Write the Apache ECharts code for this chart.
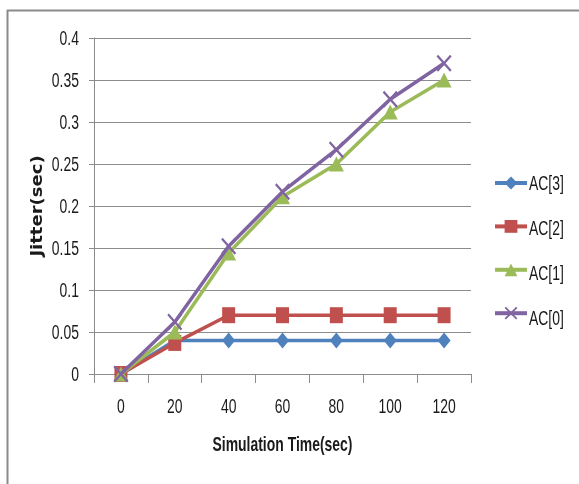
<!DOCTYPE html>
<html>
<head>
<meta charset="utf-8">
<script src="https://cdn.jsdelivr.net/npm/echarts@6/dist/echarts.min.js"></script>
<style>html,body{margin:0;padding:0;background:#fff;}#c{width:579px;height:484px;}</style>
</head>
<body>
<div id="c"></div>
<script>
var categories = ['0', '20', '40', '60', '80', '100', '120'];
var seriesNames = ['AC[3]', 'AC[2]', 'AC[1]', 'AC[0]'];
var ac3 = [0, 0.040, 0.040, 0.040, 0.040, 0.040, 0.040];
var ac2 = [0, 0.037, 0.070, 0.070, 0.070, 0.070, 0.070];
var ac1 = [0, 0.050, 0.144, 0.211, 0.250, 0.312, 0.350];
var ac0 = [0, 0.062, 0.152, 0.217, 0.267, 0.327, 0.370];
var yTicks = [0, 0.05, 0.1, 0.15, 0.2, 0.25, 0.3, 0.35, 0.4];
var yTickLabels = ['0', '0.05', '0.1', '0.15', '0.2', '0.25', '0.3', '0.35', '0.4'];
var xTitle = 'Simulation Time(sec)';
var yTitle = 'Jitter(sec)';

var FONT = "'Liberation Sans', Arial, sans-serif";
var NARROW_SCALE = 0.82;
var TALL_SCALE = 1.18;
var TXT = '#1a1a1a';
var colors = ['#4F81BD', '#C0504D', '#9BBB59', '#8064A2'];
var xSym = 'path://M0,1L1,0L5,4L9,0L10,1L6,5L10,9L9,10L5,6L1,10L0,9L4,5Z';
var symbols = ['diamond', 'rect', 'triangle', xSym];
var symSizes = [[13, 16], [13, 16], [15, 15], [15, 17]];
var values = [ac3, ac2, ac1, ac0];

var chart = echarts.init(document.getElementById('c'), null, {renderer: 'canvas'});
var series = values.map(function (v, i) {
  return {
    name: seriesNames[i],
    type: 'line',
    data: v,
    symbol: symbols[i],
    symbolSize: symSizes[i],
    showAllSymbol: true,
    lineStyle: {color: colors[i], width: 3.5},
    itemStyle: {color: colors[i]},
    z: 2 + i,
    animation: false
  };
});

chart.setOption({
  animation: false,
  backgroundColor: '#fff',
  color: colors,
  grid: {left: 94, right: 108, top: 38, bottom: 110, containLabel: false},
  legend: {
    orient: 'vertical',
    left: 493,
    top: 175,
    padding: 0,
    itemWidth: 32,
    itemHeight: 16,
    itemGap: 29,
    data: seriesNames,
    lineStyle: {width: 4},
    formatter: function () { return ''; },
    textStyle: {fontSize: 1}
  },
  xAxis: {
    type: 'category',
    data: categories,
    boundaryGap: true,
    axisLine: {show: true, lineStyle: {color: '#8c8c8c', width: 1}},
    axisTick: {show: true, length: 9, lineStyle: {color: '#8c8c8c'}},
    axisLabel: {show: false},
    splitLine: {show: false}
  },
  yAxis: {
    type: 'value',
    min: 0,
    max: 0.4,
    interval: 0.05,
    axisLine: {show: true, lineStyle: {color: '#8c8c8c', width: 1}},
    axisTick: {show: true, length: 5, lineStyle: {color: '#8c8c8c'}},
    axisLabel: {show: false},
    splitLine: {show: true, lineStyle: {color: '#8c8c8c', width: 1}}
  },
  series: series
});

// Condensed, tall real text (like the reference's narrow typeface), placed via the chart's own scales
function narrowText(text, x, y, align, vAlign, size, bold) {
  return {
    type: 'text', x: x, y: y, scaleX: NARROW_SCALE, scaleY: TALL_SCALE, silent: true, z: 10,
    style: {
      text: text,
      font: (bold ? 'bold ' : '') + size + 'px ' + FONT,
      fill: TXT, align: align, verticalAlign: vAlign
    }
  };
}

var g = [
  {type: 'line', shape: {x1: 7, y1: 10.5, x2: 579, y2: 10.5}, style: {stroke: '#8a8a8a', lineWidth: 2}, silent: true},
  {type: 'line', shape: {x1: 7.5, y1: 10, x2: 7.5, y2: 484}, style: {stroke: '#8a8a8a', lineWidth: 2}, silent: true},
  {
    type: 'text', x: 38, y: 206, rotation: Math.PI / 2, scaleX: 1.2, silent: true,
    style: {text: yTitle, font: "bold 15px 'DejaVu Sans', sans-serif", fill: TXT, align: 'center', verticalAlign: 'middle'}
  }
];
var yBase = chart.convertToPixel({yAxisIndex: 0}, 0);
yTicks.forEach(function (v, i) {
  var py = chart.convertToPixel({yAxisIndex: 0}, v);
  g.push(narrowText(yTickLabels[i], 79, py + 1, 'right', 'middle', 17, false));
});
categories.forEach(function (c) {
  var px = chart.convertToPixel({xAxisIndex: 0}, c);
  g.push(narrowText(c, px, yBase + 33, 'center', 'middle', 17, false));
});
var xMid = (chart.convertToPixel({xAxisIndex: 0}, categories[0]) + chart.convertToPixel({xAxisIndex: 0}, categories[categories.length - 1])) / 2;
g.push(narrowText(xTitle, xMid, yBase + 71, 'center', 'middle', 17, true));
seriesNames.forEach(function (n, i) {
  g.push(narrowText(n, 529, 183 + 45 * i + 1, 'left', 'middle', 17, false));
});
chart.setOption({graphic: g});
</script>
</body>
</html>
